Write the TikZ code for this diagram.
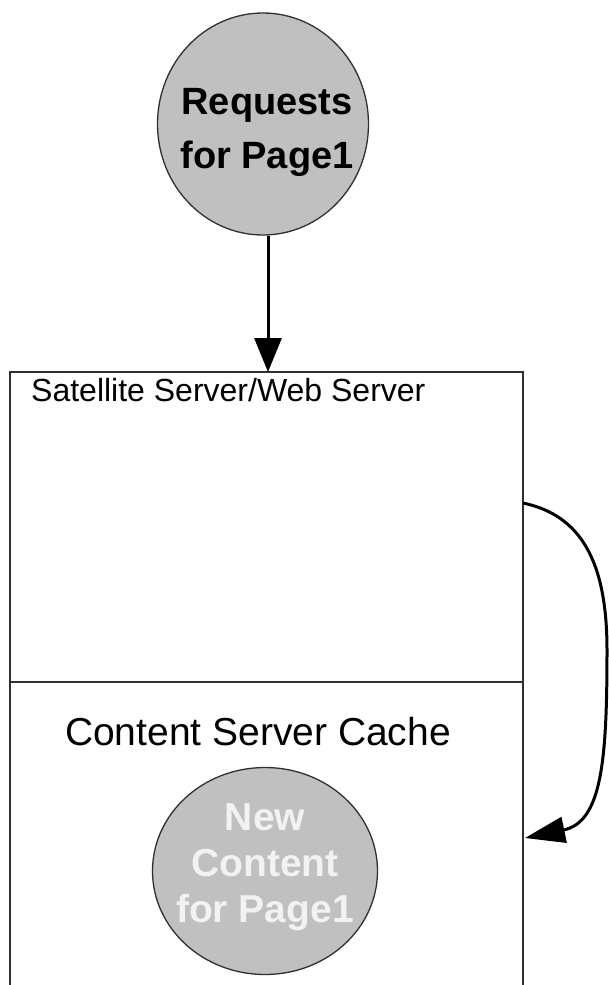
\documentclass[tikz,border=0pt]{standalone}
\usepackage{fontspec}
\setmainfont{Liberation Sans}
\usetikzlibrary{arrows.meta,shapes.geometric}
\definecolor{bubblegray}{HTML}{C0C0C0}
\definecolor{linegray}{HTML}{303030}
\begin{document}
\begin{tikzpicture}[x=1pt,y=-1pt,
  bubble/.style={ellipse, draw=linegray, line width=1.3pt, fill=bubblegray,
    inner sep=0pt, align=center},
  bubbletext/.style={inner sep=0pt, align=center},
  boxline/.style={draw=linegray, line width=2pt},
  flow/.style={draw=black, line width=3pt, -{Triangle[length=34pt,width=27pt]}},
  curveflow/.style={draw=black, line width=3pt, -{Triangle[length=40pt,width=26pt]}},
  lbl/.style={inner sep=0pt, text=black}]
\useasboundingbox (0,0) rectangle (608,985);
% container box (open at bottom)
\coordinate (bl) at (10,985);
\coordinate (tl) at (10,372);
\coordinate (tr) at (523,372);
\coordinate (br) at (523,985);
\coordinate (ml) at (10,682);
\coordinate (mr) at (523,682);
\draw[boxline] (bl) -- (tl) -- (tr) -- (br);
\draw[boxline] (ml) -- (mr);
% labels
\node[lbl, anchor=base west, font=\fontsize{32}{36}\selectfont] (sat) at (31,401) {Satellite Server/Web Server};
\node[lbl, anchor=base, font=\fontsize{39}{44}\selectfont] (cache) at (258,745) {Content Server Cache};
% bubbles
\node[bubble, minimum width=211pt, minimum height=222pt] (req) at (263,124) {};
\node[bubbletext, font=\fontsize{38}{54}\selectfont\bfseries] (reqtxt) at (267,132) {Requests\\for Page1};
\node[bubble, minimum width=225pt, minimum height=207pt] (newc) at (265,871) {};
\node[bubbletext, text=white!95!black, font=\fontsize{39}{46}\selectfont\bfseries] (newctxt) at (265,867) {New\\Content\\for Page1};
% connectors
\coordinate (atop) at (268,372);
\draw[flow] (req.south -| atop) -- (atop);
\coordinate (cstart) at (523,503);
\coordinate (cend) at (525,838);
\draw[curveflow] (cstart) .. controls (580,515) and (607,560) .. (607,650)
  .. controls (607,760) and (602,822) .. (cend);
\end{tikzpicture}
\end{document}
